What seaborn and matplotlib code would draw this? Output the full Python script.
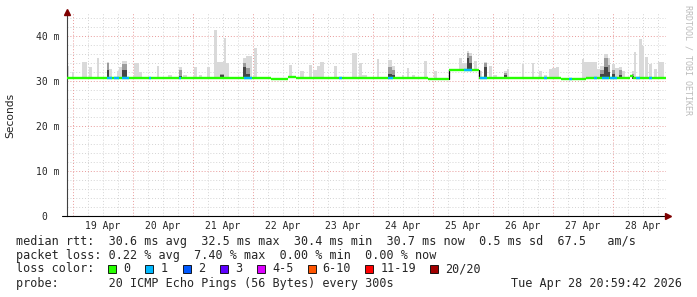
import numpy as np
import matplotlib
matplotlib.use("Agg")
import matplotlib.pyplot as plt
from matplotlib.patches import Rectangle
import seaborn as sns

# ---------------- data (time in hours since 19 Apr 00:00) ----------------
median_t = [-2.6, 79.0, 86.0, 89.0, 142.0, 150.3, 162.3, 195.0, 205.0, 222.8, 224.0, 237.0]
median_v = [30.6, 30.45, 30.9, 30.6, 30.45, 32.5, 30.6, 30.45, 30.6, 31.1, 30.6]

loss1_start = [13.6, 16.3, 19.6, 30.3, 42.3, 68.3, 106.3, 126.0, 156.3, 162.8, 188.3, 198.3, 208.3, 211.6, 214.8, 225.2, 230.3]
loss1_end = [15.6, 18.3, 22.3, 31.3, 43.3, 71.6, 107.6, 128.0, 159.6, 165.6, 189.6, 199.6, 209.6, 214.3, 217.6, 226.8, 231.6]

smoke_t = [-2.8, -0.4, 3.6, 6.3, 9.6, 13.6, 14.4, 17.6, 18.4, 19.6, 24.3, 26.3, 33.6, 38.0,
           42.3, 44.0, 48.3, 50.4, 53.6, 56.3, 57.6, 58.8, 60.3, 61.3, 68.0, 69.3, 70.7, 72.3,
           86.3, 90.8, 94.3, 96.0, 97.6, 98.8, 104.3, 111.6, 114.4, 115.6, 121.6, 126.0, 127.6,
           131.6, 133.6, 135.6, 140.3, 144.3, 154.3, 155.6, 157.6, 158.5, 160.3, 162.3, 164.3,
           166.3, 168.0, 172.3, 173.6, 179.6, 183.6, 186.3, 188.3, 190.3, 191.6, 193.3, 203.6,
           204.5, 206.3, 209.6, 210.9, 212.3, 213.9, 215.6, 216.8, 218.3, 219.6, 223.6, 224.5,
           226.3, 227.6, 228.9, 230.3, 232.3, 234.0]
smoke_w = [1.1, 0.8, 2.0, 1.3, 0.8, 0.9, 1.2, 0.8, 1.2, 2.0, 2.0, 1.3, 0.8, 1.6,
           1.3, 1.6, 1.3, 1.2, 1.2, 1.3, 1.2, 1.5, 1.0, 1.0, 1.3, 1.3, 0.9, 1.3,
           1.3, 1.5, 1.3, 1.6, 1.2, 1.5, 1.3, 2.0, 1.2, 2.0, 0.7, 1.6, 1.1,
           0.8, 0.8, 1.2, 1.3, 1.3, 1.3, 2.0, 0.9, 1.1, 1.3, 1.3, 1.3,
           1.3, 1.6, 1.3, 0.9, 0.9, 0.8, 1.3, 1.3, 1.3, 1.7, 1.0, 0.9,
           1.8, 3.3, 1.3, 1.4, 1.6, 1.0, 1.2, 1.5, 1.3, 1.2, 0.9, 0.8,
           1.3, 0.9, 1.0, 1.3, 1.3, 2.3]
smoke_top = [33.3, 31.9, 34.2, 33.0, 35.0, 34.1, 32.6, 32.1, 33.0, 34.4, 33.9, 32.0, 33.3, 31.3,
             33.0, 31.2, 33.0, 31.3, 33.0, 41.2, 34.3, 34.3, 39.6, 33.9, 35.0, 35.6, 35.6, 37.4,
             33.6, 32.1, 33.6, 32.5, 33.3, 34.1, 33.3, 36.1, 33.9, 31.3, 34.9, 34.7, 33.4,
             31.3, 32.8, 31.3, 34.4, 32.1, 35.0, 33.9, 36.7, 36.1, 34.4, 32.1, 34.3,
             33.4, 31.4, 32.2, 32.7, 33.7, 33.9, 32.1, 31.4, 32.7, 32.8, 33.0, 34.9,
             34.1, 34.1, 32.6, 33.3, 35.9, 35.0, 33.7, 32.8, 33.0, 32.2, 32.1, 36.5,
             39.3, 37.8, 35.2, 33.7, 32.7, 34.1]

dark_t = [13.6, 19.6, 42.3, 58.8, 68.0, 69.3, 126.0, 127.6, 157.6, 158.5, 164.3, 172.3,
          210.9, 212.3, 213.9, 215.6, 218.3, 223.6]
dark_w = [0.9, 2.0, 1.3, 1.5, 1.3, 1.3, 1.6, 1.1, 0.9, 1.1, 1.3, 1.3,
          1.4, 1.6, 1.0, 1.2, 1.3, 0.9]
dark_mid = [34.0, 33.8, 32.5, 31.6, 34.0, 32.8, 33.0, 32.5, 36.2, 35.5, 34.0, 31.8,
            32.5, 35.0, 33.5, 32.5, 32.5, 31.5]
dark_low = [32.5, 32.5, 31.0, 31.2, 33.0, 31.5, 31.5, 31.2, 35.0, 34.0, 33.0, 31.2,
            31.5, 33.0, 32.0, 31.5, 31.3, 31.0]

day_labels = ["19 Apr", "20 Apr", "21 Apr", "22 Apr", "23 Apr",
              "24 Apr", "25 Apr", "26 Apr", "27 Apr", "28 Apr"]
y_ticks = [0, 10, 20, 30, 40]
y_tick_labels = ["0  ", "10 m", "20 m", "30 m", "40 m"]

legend_labels = ["0", "1", "2", "3", "4-5", "6-10", "11-19", "20/20"]
legend_colors = ["#26ff00", "#00b8ff", "#0059ff", "#5e00ff", "#dd00ff", "#ff5500", "#ff0000", "#a10000"]

stats_line1 = "median rtt:  30.6 ms avg  32.5 ms max  30.4 ms min  30.7 ms now  0.5 ms sd  67.5   am/s"
stats_line2 = "packet loss: 0.22 % avg  7.40 % max  0.00 % min  0.00 % now"
probe_line = "probe:       20 ICMP Echo Pings (56 Bytes) every 300s"
stamp = "Tue Apr 28 20:59:42 2026"

# ---------------- drawing ----------------
sns.set_style("white")
plt.rcParams["font.family"] = ["DejaVu Sans"]
MONO = "DejaVu Sans Mono"

W, H = 697, 297
fig = plt.figure(figsize=(W / 100, H / 100), dpi=100)
x0, x1, ytop, ybot = 66.5, 665.5, 12.0, 216.0
ax = fig.add_axes([x0 / W, (H - ybot) / H, (x1 - x0) / W, (ybot - ytop) / H])
ax.set_facecolor("white")

ax.set_xlim(-2.6, 237.0)
ax.set_ylim(0, 45.3)

grid_minor = "#d4d4d4"
grid_major = "#e89a9a"
dot = (0, (1, 2))
for v in np.arange(2, 45, 2):
    if v % 10:
        ax.axhline(v, color=grid_minor, lw=0.7, ls=dot, zorder=0)
for v in np.arange(0, 237, 6):
    if v % 24:
        ax.axvline(v, color=grid_minor, lw=0.7, ls=dot, zorder=0)
for v in [10, 20, 30, 40]:
    ax.axhline(v, color=grid_major, lw=0.7, ls=dot, zorder=0.5)
for v in np.arange(0, 237, 24):
    ax.axvline(v, color=grid_major, lw=0.7, ls=dot, zorder=0.5)

mt = np.array(median_t)
mv = np.array(median_v)


def median_at(t):
    idx = np.clip(np.searchsorted(mt, t, side="right") - 1, 0, len(mv) - 1)
    return mv[idx]


st = np.array(smoke_t)
sw = np.array(smoke_w)
stop = np.array(smoke_top)
sb = median_at(st + sw / 2) - 0.2
ax.bar(st, stop - sb, width=sw, bottom=sb, align="edge", color="#d9d9d9", linewidth=0, zorder=2)

dt = np.array(dark_t)
dw = np.array(dark_w)
db = median_at(dt + dw / 2) - 0.2
ax.bar(dt, np.array(dark_mid) - db, width=dw, bottom=db, align="edge", color="#9c9c9c", linewidth=0, zorder=3)
ax.bar(dt, np.array(dark_low) - db, width=dw, bottom=db, align="edge", color="#454545", linewidth=0, zorder=4)

# median: black connectors only at the large jumps, then coloured horizontal segments
jumps = np.where(np.abs(np.diff(mv)) > 1.0)[0] + 1
for j in jumps:
    sns.lineplot(x=[mt[j], mt[j]], y=[mv[j - 1], mv[j]], color="black", lw=0.9,
                 estimator=None, sort=False, ax=ax, zorder=5)
ax.hlines(mv, mt[:-1], mt[1:], colors=legend_colors[0], lw=1.7, zorder=6)
ls_ = np.array(loss1_start)
le_ = np.array(loss1_end)
ax.hlines(median_at((ls_ + le_) / 2), ls_, le_, colors=legend_colors[1], lw=1.7, zorder=7)

# axes / ticks
for s in ["top", "right"]:
    ax.spines[s].set_visible(False)
ax.spines["left"].set_color("#404040")
ax.spines["left"].set_linewidth(0.8)
ax.spines["bottom"].set_color("black")
ax.spines["bottom"].set_linewidth(0.8)

ax.set_xticks([12 + 24 * i for i in range(10)], day_labels)
ax.tick_params(axis="x", length=0, pad=3.5, labelsize=7)
ax.set_yticks(y_ticks, y_tick_labels)
ax.set_yticks(np.arange(2, 45, 2), minor=True)
ax.tick_params(axis="y", which="major", length=2.2, width=0.7, pad=2.8, labelsize=7, color="#404040")
ax.tick_params(axis="y", which="minor", length=1.5, width=0.6, color="#404040")
for lab in ax.get_xticklabels() + ax.get_yticklabels():
    lab.set_family(MONO)
ax.set_xlabel("")
ax.set_ylabel("")

# arrows
ax.plot([0], [1.0], marker="^", color="#7f0000", markersize=4, transform=ax.transAxes, clip_on=False, zorder=10)
ax.plot([1.0, 1.004], [0, 0], color="black", lw=0.8, transform=ax.transAxes, clip_on=False)
ax.plot([1.004], [0], marker=">", color="#7f0000", markersize=4, transform=ax.transAxes, clip_on=False, zorder=10)
ax.plot([-0.008, 0], [0, 0], color="black", lw=0.8, transform=ax.transAxes, clip_on=False)


def fx(px):
    return px / W


def fy(py):
    return 1 - py / H


fig.text(fx(10), fy(115), "Seconds", rotation=90, ha="center", va="center", fontsize=7.7, color="#222222")
fig.text(fx(688), fy(5), "RRDTOOL / TOBI OETIKER", rotation=270, ha="center", va="top",
         fontsize=6, family=MONO, color="#bbbbbb")

tsize = 8.43
fig.text(fx(16), fy(242), stats_line1, family=MONO, fontsize=tsize, va="center", ha="left")
fig.text(fx(16), fy(255.5), stats_line2, family=MONO, fontsize=tsize, va="center", ha="left")
fig.text(fx(16), fy(269), "loss color:", family=MONO, fontsize=tsize, va="center", ha="left")
sq_x = [108, 145.3, 182.7, 220, 257, 307.6, 365.3, 430.2]
for sx, lab, col in zip(sq_x, legend_labels, legend_colors):
    fig.add_artist(Rectangle((fx(sx), fy(273)), 8 / W, 8 / H, transform=fig.transFigure,
                             facecolor=col, edgecolor="black", lw=0.6))
    fig.text(fx(sx + 15), fy(269), lab, family=MONO, fontsize=tsize, va="center", ha="left")
fig.text(fx(16), fy(283), probe_line, family=MONO, fontsize=tsize, va="center", ha="left")
fig.text(fx(682), fy(283), stamp, family=MONO, fontsize=tsize, va="center", ha="right")

fig.savefig("out.png", dpi=100)
